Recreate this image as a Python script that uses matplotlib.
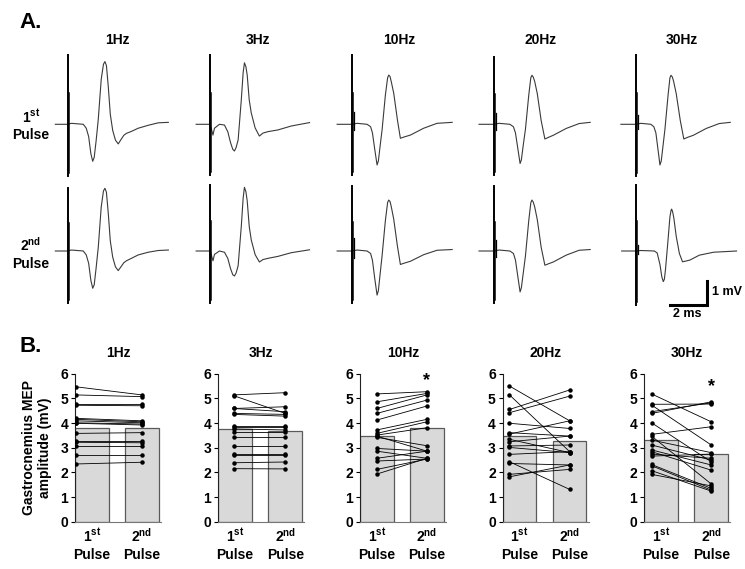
import numpy as np
import matplotlib
matplotlib.use("Agg")
import matplotlib.pyplot as plt

plt.rcParams['font.family'] = ['Liberation Sans', 'DejaVu Sans']
plt.rcParams['font.weight'] = 'bold'
plt.rcParams['mathtext.fontset'] = 'custom'
plt.rcParams['mathtext.rm'] = 'Liberation Sans:bold'
plt.rcParams['mathtext.it'] = 'Liberation Sans:bold'
plt.rcParams['mathtext.bf'] = 'Liberation Sans:bold'

W, H = 745, 569

def fx(px):
    return px / W

def fy(py):
    return 1 - py / H

freqs = ['1Hz', '3Hz', '10Hz', '20Hz', '30Hz']

# ---- panel A: representative MEP traces (ms, mV) ----
t_1hz = [-0.70, -0.02, 0.16, 0.81, 0.97, 1.10, 1.22, 1.32, 1.40, 1.50, 1.62, 1.78, 1.90, 1.98, 2.06, 2.16, 2.27, 2.40, 2.55, 2.70, 2.85, 3.00, 3.14, 3.41, 3.78, 4.32, 4.86, 5.41]
v_1hz_p1 = [0, 0, 0.04, 0, -0.16, -0.50, -1.20, -1.51, -1.35, -0.70, 0.20, 1.84, 2.45, 2.56, 2.40, 1.55, 0.41, -0.25, -0.65, -0.80, -0.62, -0.45, -0.37, -0.29, -0.16, -0.04, 0.06, 0.08]
v_1hz_p2 = [0, 0, 0.04, 0, -0.16, -0.50, -1.20, -1.52, -1.38, -0.72, 0.15, 1.80, 2.45, 2.56, 2.40, 1.55, 0.41, -0.25, -0.65, -0.80, -0.64, -0.48, -0.40, -0.30, -0.16, -0.05, 0.02, 0.04]

t_3hz = [-0.76, 0, 0.15, 0.23, 0.50, 0.77, 0.95, 1.10, 1.22, 1.31, 1.40, 1.51, 1.68, 1.78, 1.85, 1.93, 2.00, 2.11, 2.22, 2.43, 2.66, 2.85, 3.12, 3.66, 4.38, 5.37]
v_3hz_p1 = [0, 0, -0.44, -0.16, 0, -0.03, -0.30, -0.75, -1.02, -1.09, -0.95, -0.64, 0.99, 2.10, 2.51, 2.35, 2.01, 0.99, 0.46, -0.15, -0.48, -0.36, -0.30, -0.23, -0.07, 0.07]
v_3hz_p2 = [0, 0, -0.40, -0.14, 0, -0.05, -0.30, -0.72, -0.97, -1.02, -0.90, -0.60, 1.00, 2.15, 2.60, 2.42, 2.05, 1.00, 0.45, -0.15, -0.45, -0.35, -0.30, -0.22, -0.07, 0.05]

t_10hz = [-0.81, 0, 0.27, 0.81, 1.00, 1.10, 1.22, 1.35, 1.42, 1.52, 1.62, 1.80, 1.92, 1.98, 2.05, 2.12, 2.25, 2.45, 2.61, 2.80, 3.15, 3.87, 4.59, 5.41]
v_10hz_p1 = [0, 0, 0.04, 0, -0.10, -0.35, -1.00, -1.66, -1.50, -0.85, -0.23, 1.20, 1.90, 2.01, 1.95, 1.73, 1.27, 0.18, -0.57, -0.52, -0.44, -0.16, 0.04, 0.08]
v_10hz_p2 = [0, 0, 0.04, 0, -0.10, -0.38, -1.10, -1.80, -1.62, -0.90, -0.20, 1.25, 1.98, 2.08, 2.02, 1.80, 1.30, 0.20, -0.55, -0.50, -0.42, -0.15, 0.03, 0.06]

t_20hz = [-0.81, 0, 0.27, 0.86, 1.05, 1.16, 1.28, 1.41, 1.48, 1.59, 1.70, 1.88, 1.99, 2.05, 2.12, 2.20, 2.34, 2.55, 2.75, 2.95, 3.20, 3.90, 4.60, 5.20]
v_20hz_p1 = [0, 0, 0.04, 0, -0.10, -0.35, -0.95, -1.60, -1.45, -0.80, -0.20, 1.20, 1.90, 2.00, 1.93, 1.75, 1.25, 0.15, -0.60, -0.53, -0.45, -0.17, 0.03, 0.08]
v_20hz_p2 = [0, 0, 0.04, 0, -0.10, -0.37, -1.00, -1.67, -1.50, -0.85, -0.20, 1.25, 1.97, 2.08, 2.00, 1.80, 1.28, 0.15, -0.58, -0.52, -0.45, -0.17, 0.03, 0.06]

t_30hz_p1 = [-0.81, 0, 0.27, 0.81, 0.97, 1.08, 1.19, 1.30, 1.37, 1.47, 1.57, 1.74, 1.84, 1.90, 1.97, 2.04, 2.18, 2.40, 2.59, 2.80, 3.10, 3.80, 4.50, 5.10]
v_30hz_p1 = [0, 0, 0.04, 0, -0.10, -0.35, -1.00, -1.66, -1.50, -0.85, -0.20, 1.20, 1.90, 2.00, 1.93, 1.75, 1.25, 0.15, -0.60, -0.53, -0.45, -0.17, 0.03, 0.08]
t_30hz_p2 = [-0.77, 0, 0.27, 1.00, 1.15, 1.30, 1.40, 1.48, 1.54, 1.60, 1.72, 1.84, 1.90, 1.93, 1.98, 2.05, 2.18, 2.35, 2.52, 2.65, 2.92, 3.43, 4.20, 5.44]
v_30hz_p2 = [0, 0, 0.02, 0, -0.08, -0.55, -1.05, -1.25, -1.15, -0.75, 0.30, 1.40, 1.66, 1.71, 1.62, 1.35, 0.60, -0.10, -0.44, -0.42, -0.37, -0.17, -0.05, 0]

traces = [
    [(t_1hz, v_1hz_p1), (t_3hz, v_3hz_p1), (t_10hz, v_10hz_p1), (t_20hz, v_20hz_p1), (t_30hz_p1, v_30hz_p1)],
    [(t_1hz, v_1hz_p2), (t_3hz, v_3hz_p2), (t_10hz, v_10hz_p2), (t_20hz, v_20hz_p2), (t_30hz_p2, v_30hz_p2)],
]
# stimulus artefact extent (mV) and small after-spike
stim_top = [[2.83, 2.83, 2.83, 2.75, 2.83], [2.57, 2.69, 2.65, 2.65, 2.69]]
stim_bot = [[-2.11, -2.07, -2.07, -2.07, -2.11], [-2.12, -2.12, -2.12, -2.12, -2.20]]
after_spike = [[0, 0, 0.5, 0.45, 0.4], [0, 0, 0.55, 0.45, 0.25]]

# ---- panel B: MEP amplitude per subject (mV), 1st vs 2nd pulse ----
amp_1hz_p1 = [5.47, 5.14, 4.76, 4.72, 4.19, 4.15, 4.09, 4.01, 3.99, 3.58, 3.27, 3.22, 3.08, 2.70, 2.34]
amp_1hz_p2 = [5.14, 5.07, 4.76, 4.70, 4.09, 4.05, 4.01, 3.96, 3.92, 3.61, 3.27, 3.20, 3.08, 2.70, 2.41]
amp_3hz_p1 = [5.14, 5.11, 4.59, 4.59, 4.39, 4.35, 3.89, 3.85, 3.76, 3.65, 3.42, 3.08, 2.73, 2.69, 2.39, 2.15]
amp_3hz_p2 = [5.23, 4.39, 4.66, 4.46, 4.35, 4.28, 3.89, 3.85, 3.72, 3.65, 3.42, 3.08, 2.73, 2.69, 2.42, 2.14]
amp_10hz_p1 = [5.18, 4.86, 4.59, 4.39, 4.12, 3.72, 3.58, 3.51, 3.42, 3.47, 2.97, 2.86, 2.57, 2.46, 2.12, 1.93]
amp_10hz_p2 = [5.27, 5.20, 5.14, 4.93, 4.69, 4.15, 4.05, 3.81, 3.08, 2.86, 2.86, 2.57, 2.86, 2.54, 2.54, 2.57]
amp_20hz_p1 = [5.50, 5.14, 4.55, 4.42, 3.99, 3.61, 3.55, 3.34, 3.24, 3.07, 3.01, 2.73, 2.43, 2.36, 1.92, 1.82]
amp_20hz_p2 = [4.09, 2.84, 5.34, 5.09, 3.78, 3.47, 4.09, 2.80, 3.47, 3.11, 2.80, 2.84, 1.31, 2.30, 2.12, 2.30]
amp_30hz_p1 = [5.18, 4.76, 4.73, 4.46, 4.39, 4.01, 3.54, 3.47, 3.31, 3.11, 2.91, 2.84, 2.74, 2.66, 2.32, 2.27, 2.07, 1.92]
amp_30hz_p2 = [4.05, 4.77, 3.11, 4.82, 4.86, 2.43, 3.85, 1.53, 2.80, 2.50, 2.30, 2.09, 2.57, 2.74, 1.35, 1.28, 1.24, 1.45]

mean_p1 = [3.81, 3.74, 3.47, 3.47, 3.31]
mean_p2 = [3.78, 3.68, 3.81, 3.28, 2.74]
star_y = [None, None, 5.72, None, 5.48]

amps = [(amp_1hz_p1, amp_1hz_p2), (amp_3hz_p1, amp_3hz_p2), (amp_10hz_p1, amp_10hz_p2),
        (amp_20hz_p1, amp_20hz_p2), (amp_30hz_p1, amp_30hz_p2)]

fig = plt.figure(figsize=(W / 100, H / 100), dpi=100)

# panel A axes, 18.5 px per ms and 24.5 px per mV
pxms, pxmv = 18.5, 24.5
x0px, y0px = 68.3, 124.3
axa = fig.add_axes([fx(50), fy(330), fx(690), 290 / H])
axa.set_xlim((50 - x0px) / pxms, (740 - x0px) / pxms)
axa.set_ylim((y0px - 330) / pxmv, (y0px - 40) / pxmv)
axa.axis('off')

col_step = 141.9 / pxms
row_step = 126.7 / pxmv
for r in range(2):
    for c in range(5):
        xo = c * col_step
        yo = -r * row_step
        t, v = traces[r][c]
        axa.plot(xo + np.array(t), yo + np.array(v), color='#3a3a3a', lw=0.8)
        top, bot = stim_top[r][c], stim_bot[r][c]
        axa.plot([xo, xo], [yo + bot, yo + top], color='k', lw=1.4)
        axa.plot([xo + 0.05, xo + 0.05], [yo + bot * 0.95, yo + top * 0.45], color='k', lw=1.1)
        s = after_spike[r][c]
        if s:
            axa.plot([xo + 0.11, xo + 0.11], [yo - s * 0.5, yo + s], color='k', lw=0.9)

# scale bar
axa.plot([32.5, 34.5, 34.5], [-7.38, -7.38, -6.38], color='k', lw=2.2, solid_joinstyle='miter')
axa.text(34.8, -6.84, '1 mV', ha='left', va='center', fontsize=9)
axa.text(33.45, -7.75, '2 ms', ha='center', va='center', fontsize=9)

fig.text(fx(31), fy(22), 'A.', ha='center', va='center', fontsize=16)
a_title_x = [117, 258, 399, 541, 682]
for i, f in enumerate(freqs):
    fig.text(fx(a_title_x[i]), fy(40), f, ha='center', va='center', fontsize=10)
fig.text(fx(31), fy(125), '$1^{st}$\nPulse', ha='center', va='center', fontsize=10, linespacing=1.3)
fig.text(fx(31), fy(253), '$2^{nd}$\nPulse', ha='center', va='center', fontsize=10, linespacing=1.3)

# panel B
fig.text(fx(31), fy(346), 'B.', ha='center', va='center', fontsize=16)
b_left = [75, 218.3, 360, 502.7, 644.3]
dot_x_left = [-0.32, -0.03, 0, -0.2, -0.19]
for i in range(5):
    ax = fig.add_axes([fx(b_left[i]), fy(521.7), 86 / W, 148 / H])
    ax.bar([0, 1], [mean_p1[i], mean_p2[i]], width=0.67, color='#d9d9d9',
           edgecolor='#5a5a5a', lw=0.9, zorder=1)
    p1, p2 = amps[i]
    for a, b in zip(p1, p2):
        ax.plot([dot_x_left[i], 1], [a, b], color='k', lw=0.6, marker='o', ms=2.2, zorder=3)
    ax.set_xlim(-0.335, 1.38)
    ax.set_ylim(0, 6)
    ax.set_yticks(range(7))
    ax.set_xticks([0, 1])
    ax.set_xticklabels(['$1^{st}$\nPulse', '$2^{nd}$\nPulse'], fontsize=10, linespacing=1.3)
    ax.tick_params(axis='x', length=0, pad=4)
    ax.tick_params(axis='y', length=3, width=0.8, labelsize=10, pad=2)
    for lab in ax.get_yticklabels():
        lab.set_fontweight('bold')
    for lab in ax.get_xticklabels():
        lab.set_fontweight('bold')
    ax.spines['top'].set_visible(False)
    ax.spines['right'].set_visible(False)
    ax.spines['left'].set_color('#222222')
    ax.spines['bottom'].set_color('#777777')
    ax.patch.set_visible(False)
    ax.set_title(freqs[i], fontsize=10, fontweight='bold', pad=12)
    if star_y[i] is not None:
        ax.text(1, star_y[i], '*', ha='center', va='center', fontsize=13, clip_on=False)
    if i == 0:
        ax.set_ylabel('Gastrocnemius MEP\namplitude (mV)', fontsize=10, fontweight='bold', labelpad=6)

fig.savefig('out.png', dpi=100)
